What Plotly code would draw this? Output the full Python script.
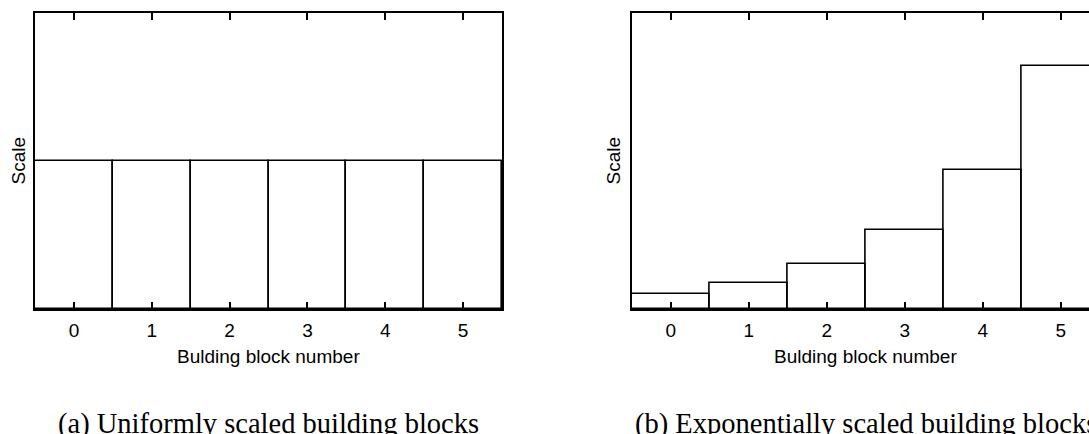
import plotly.graph_objects as go

W, H = 1089, 434

blocks = [0, 1, 2, 3, 4, 5]
tick_labels = ["0", "1", "2", "3", "4", "5"]
uniform_scale = [1, 1, 1, 1, 1, 1]
exp_scale = [0.05, 0.0875, 0.153, 0.268, 0.469, 0.821]

x_title = "Bulding block number"
y_title = "Scale"
caption_a = "(a) Uniformly scaled building blocks"
caption_b = "(b) Exponentially scaled building blocks"

sans = "Liberation Sans, Arial, Helvetica, sans-serif"
serif = "Liberation Serif, Times New Roman, serif"

fig = go.Figure()
bar_style = dict(marker=dict(color="rgba(255,255,255,0)", line=dict(color="black", width=1.6)),
                 width=1.0, showlegend=False, hoverinfo="skip")
fig.add_trace(go.Bar(x=blocks, y=uniform_scale, xaxis="x", yaxis="y", **bar_style))
fig.add_trace(go.Bar(x=blocks, y=exp_scale, xaxis="x2", yaxis="y2", **bar_style))

ydom = [1 - 309 / H, 1 - 13 / H]
xdom1 = [35 / W, 502 / W]
xdom2 = [631.7 / W, 1.0]

xaxis_common = dict(tickmode="array", tickvals=blocks, ticktext=tick_labels,
                    ticks="inside", ticklen=7, tickwidth=1.5, tickcolor="black",
                    showline=True, linecolor="black", linewidth=1.8, mirror="ticks",
                    showgrid=False, zeroline=False,
                    tickfont=dict(family=sans, size=19, color="black"),
                    ticklabelstandoff=3)
yaxis_common = dict(showticklabels=False, ticks="", showgrid=False, zeroline=False,
                    showline=True, linecolor="black", linewidth=1.8)

fig.update_layout(
    width=W, height=H,
    margin=dict(l=0, r=0, t=0, b=0, autoexpand=False),
    paper_bgcolor="white", plot_bgcolor="white",
    bargap=0,
    xaxis=dict(domain=xdom1, range=[-0.5, 5.5], anchor="y", **xaxis_common),
    yaxis=dict(domain=ydom, range=[0, 2], anchor="x", mirror=True, **yaxis_common),
    xaxis2=dict(domain=xdom2, range=[-0.5, 5.363], anchor="y2", **xaxis_common),
    yaxis2=dict(domain=ydom, range=[0, 1], anchor="x2", mirror=False, **yaxis_common),
)

anns = []
for xr, xc, cap in [("x", 2.5, caption_a), ("x2", 2.5, caption_b)]:
    anns.append(dict(text=x_title, xref=xr, x=xc, yref="paper", y=1 - 356 / H,
                     xanchor="center", yanchor="middle", showarrow=False,
                     font=dict(family=sans, size=19, color="black")))
    anns.append(dict(text=cap, xref=xr, x=xc, yref="paper", y=0, yshift=-8,
                     xanchor="center", yanchor="bottom", showarrow=False,
                     font=dict(family=serif, size=28.5, color="black")))
for xp in [17.5, 612.5]:
    anns.append(dict(text=y_title, xref="paper", x=xp / W, yref="paper", y=1 - 161 / H,
                     xanchor="center", yanchor="middle", textangle=-90, showarrow=False,
                     font=dict(family=sans, size=19, color="black")))
fig.update_layout(annotations=anns)

fig.write_html("out.html")
